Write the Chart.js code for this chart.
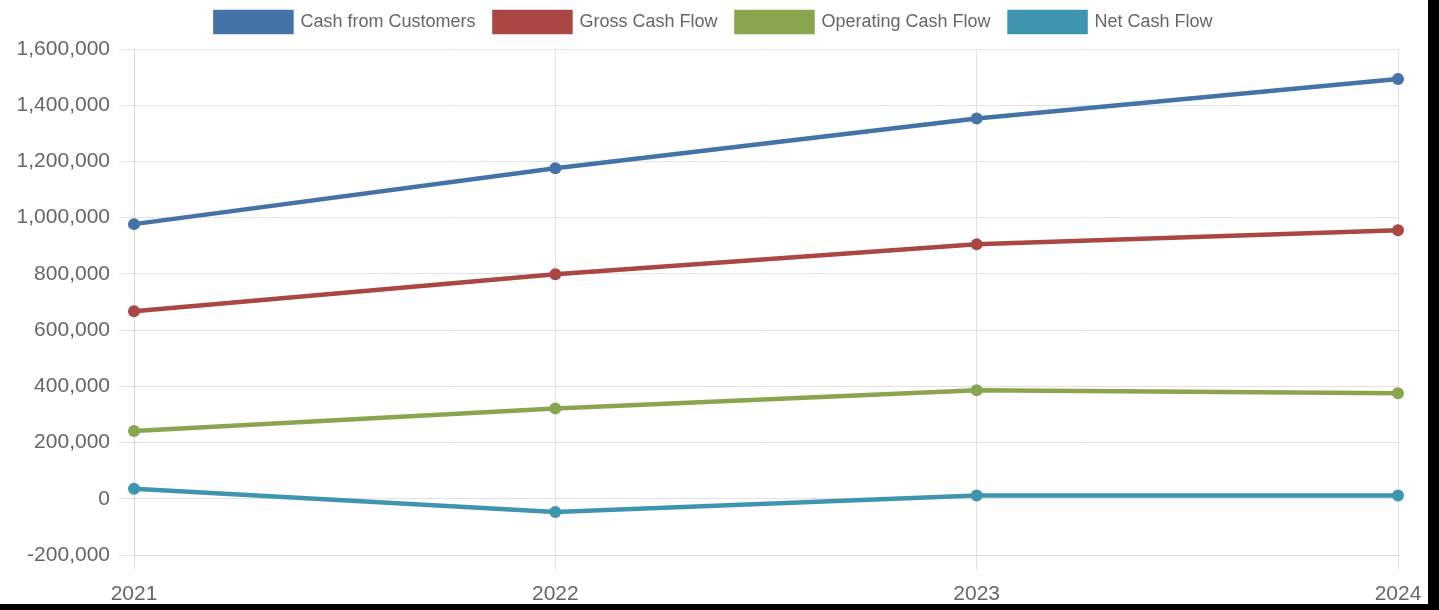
<!DOCTYPE html>
<html>
<head>
<meta charset="utf-8">
<script src="https://cdn.jsdelivr.net/npm/chart.js@4"></script>
<style>
  html, body { margin: 0; padding: 0; background: #000; }
  #wrap { width: 1428px; height: 604px; background: #fff; position: relative; }
</style>
</head>
<body>
<div id="wrap"><canvas id="graficoFlujo"></canvas></div>
<script>
// Años y series de flujo de caja
const anios = ['2021', '2022', '2023', '2024'];
const cashCustomers = [977000, 1176000, 1353000, 1493000];
const grossCashFlow = [667000, 799000, 905000, 955000];
const operatingCashFlow = [241000, 321000, 386000, 375000];
const netCashFlow = [36000, -47000, 12000, 12000];

const ejeMin = -200000;
const ejeMax = 1600000;
const ejePaso = 200000;

const colores = ['#4572A7', '#AA4643', '#89A54E', '#3D96AE'];
const nombres = ['Cash from Customers', 'Gross Cash Flow', 'Operating Cash Flow', 'Net Cash Flow'];
const series = [cashCustomers, grossCashFlow, operatingCashFlow, netCashFlow];

Chart.defaults.font.family = '"Liberation Sans", Arial, sans-serif';
Chart.defaults.color = '#666';

// Altura fija del bloque de leyenda (el área del gráfico empieza justo debajo)
const margenLeyenda = {
    id: 'margenLeyenda',
    beforeInit(chart) {
        const fitOriginal = chart.legend.fit;
        chart.legend.fit = function () {
            fitOriginal.bind(chart.legend)();
            this.height = 56;
        };
    }
};

const ctx = document.getElementById('graficoFlujo').getContext('2d');
window.chartFlujo = new Chart(ctx, {
    type: 'line',
    data: {
        labels: anios,
        datasets: series.map((datos, i) => ({
            label: nombres[i],
            data: datos,
            borderColor: colores[i],
            backgroundColor: colores[i],
            borderWidth: 4.5,
            pointRadius: 6,
            pointBorderWidth: 0,
            tension: 0,
            fill: false
        }))
    },
    options: {
        responsive: true, maintainAspectRatio: false, animation: false,
        layout: { padding: { left: 0, right: 0, top: -7, bottom: 0 } },
        plugins: {
            legend: {
                position: 'top',
                labels: { boxWidth: 76, boxHeight: 20, padding: 19, font: { size: 18 }, color: '#666' }
            },
            tooltip: { enabled: false }
        },
        scales: {
            x: {
                offset: false,
                afterFit: s => { s.height = 49; s.paddingLeft = 0; s.paddingRight = 30; },
                grid: { color: '#e2e2e2', tickLength: 15 },
                border: { color: '#d6d6d6' },
                ticks: { font: { size: 21 }, padding: 12, maxRotation: 0 }
            },
            y: {
                min: ejeMin, max: ejeMax,
                afterFit: s => { s.width = 134; },
                grid: { color: '#e2e2e2', tickLength: 15 },
                border: { color: '#d6d6d6' },
                ticks: { stepSize: ejePaso, font: { size: 21 }, padding: 9 }
            }
        }
    },
    plugins: [margenLeyenda]
});
</script>
</body>
</html>
